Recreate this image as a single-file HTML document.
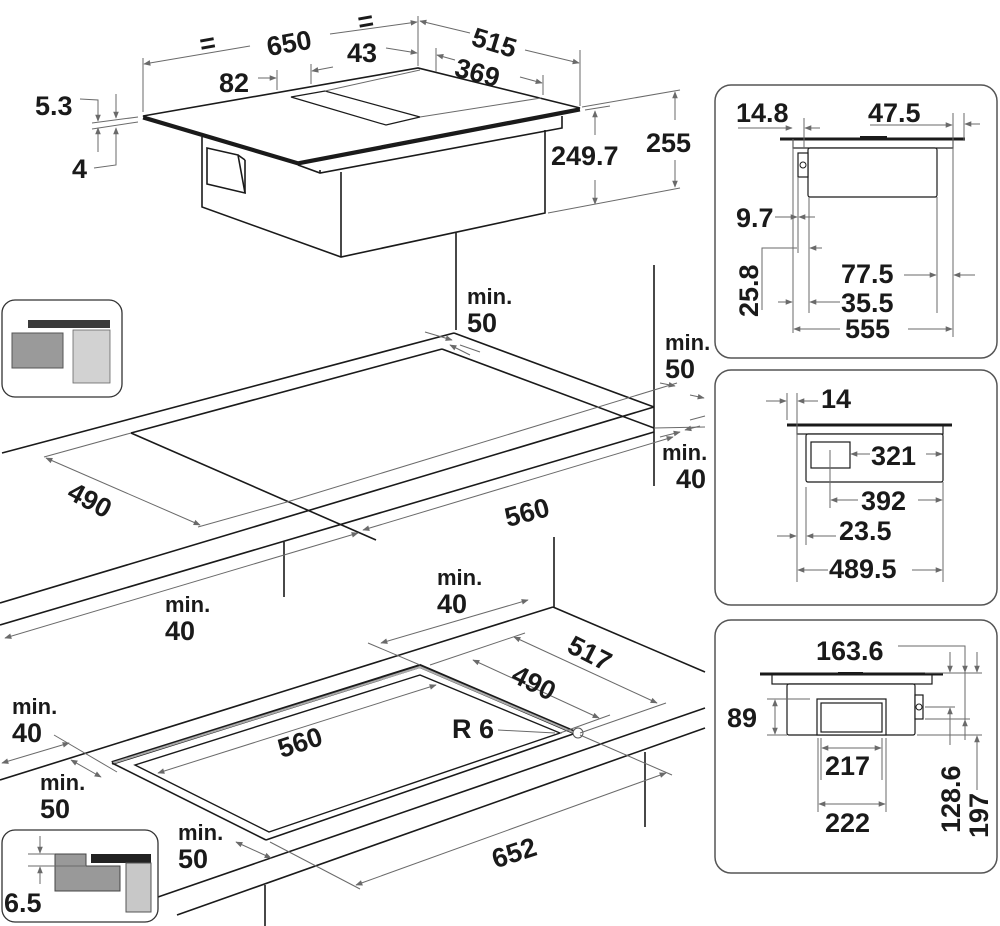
<!DOCTYPE html>
<html><head><meta charset="utf-8"><style>
html,body{margin:0;padding:0;background:#fff}
svg{display:block}
text{font-family:"Liberation Sans",sans-serif;font-weight:bold;fill:#1a1a1a}
.t{font-size:27px}
.s{font-size:22px}
.k{stroke:#1a1a1a;stroke-width:1.6;fill:none}
.kb{stroke:#1a1a1a;stroke-width:3;fill:none}
.g{stroke:#6a6a6a;stroke-width:1;fill:none}
.d{stroke:#6a6a6a;stroke-width:1;fill:none;marker-start:url(#a);marker-end:url(#a)}
.e{stroke:#6a6a6a;stroke-width:1;fill:none;marker-end:url(#a)}
</style></head><body>
<svg width="1000" height="926" viewBox="0 0 1000 926" xmlns="http://www.w3.org/2000/svg">
<defs>
<marker id="a" viewBox="0 0 10 10" refX="9" refY="5" markerWidth="9" markerHeight="7" orient="auto-start-reverse" markerUnits="userSpaceOnUse">
<path d="M0,1 L10,5 L0,9 z" fill="#6a6a6a"/></marker>
</defs>

<!-- TOP HOB -->
<polygon points="143,116 418,68 580,108 298,162" fill="#fff" stroke="#1a1a1a" stroke-width="1.6"/>
<polyline class="kb" points="143,118 298,164 580,110"/>
<polygon points="291,97 325,91 420,117 386,125" fill="#fff" stroke="#1a1a1a" stroke-width="1.2"/>
<line class="g" x1="325" y1="91" x2="420" y2="70"/>
<line class="g" x1="420" y1="117" x2="541" y2="98"/>
<polyline class="k" points="298,165 320,173 562,128 562,116"/>
<line class="k" x1="320" y1="173" x2="320" y2="170"/>
<polyline class="k" points="202,137 202,207 341,257 545,213 545,130"/>
<line class="k" x1="341" y1="172" x2="341" y2="257"/>
<polygon points="207,148 238,155 245,193 207,184" fill="#fff" stroke="#1a1a1a" stroke-width="1.6"/>
<line class="k" x1="238" y1="155" x2="245" y2="160"/><line class="k" x1="245" y1="160" x2="245" y2="193"/>
<line class="k" x1="456" y1="233" x2="456" y2="330"/>

<!-- top dims -->
<line class="g" x1="143" y1="112" x2="143" y2="58"/>
<line class="g" x1="418" y1="66" x2="418" y2="16"/>
<line class="e" x1="250" y1="46" x2="144" y2="64"/>
<line class="e" x1="330" y1="34" x2="417" y2="22"/>
<text class="t" x="200" y="52" transform="rotate(-10 210 45)">=</text>
<text class="t" x="266" y="52" transform="rotate(-10 291 40)">650</text>
<text class="t" x="358" y="30" transform="rotate(-10 368 22)">=</text>
<line class="g" x1="277" y1="70" x2="277" y2="90"/>
<line class="e" x1="258" y1="78" x2="276" y2="78"/>
<text class="t" x="219" y="92">82</text>
<line class="g" x1="311" y1="64" x2="311" y2="84"/>
<line class="e" x1="333" y1="67" x2="312" y2="71"/>
<line class="e" x1="386" y1="48" x2="417" y2="53"/>
<text class="t" x="347" y="62">43</text>
<line class="g" x1="580" y1="50" x2="580" y2="106"/>
<line class="e" x1="470" y1="33" x2="420" y2="21"/>
<line class="e" x1="525" y1="50" x2="579" y2="63"/>
<text class="t" x="472" y="52" transform="rotate(17 495 42)">515</text>
<line class="g" x1="436" y1="48" x2="436" y2="72"/>
<line class="g" x1="543" y1="75" x2="543" y2="95"/>
<line class="e" x1="455" y1="60" x2="437" y2="55"/>
<line class="e" x1="520" y1="77" x2="542" y2="83"/>
<text class="t" x="455" y="82" transform="rotate(15 478 72)">369</text>
<text class="t" x="35" y="115">5.3</text>
<text class="t" x="72" y="178">4</text>
<polyline class="g" points="80,99 98,100 98,118"/>
<line class="e" x1="98" y1="104" x2="98" y2="121"/>
<line class="e" x1="116" y1="94" x2="116" y2="118"/>
<line class="e" x1="98" y1="152" x2="98" y2="128"/>
<line class="e" x1="116" y1="162" x2="116" y2="128"/>
<polyline class="g" points="94,168 116,165 116,140"/>
<line class="g" x1="92" y1="123" x2="138" y2="117"/>
<line class="g" x1="92" y1="129" x2="138" y2="122"/>
<line class="g" x1="582" y1="107" x2="680" y2="90"/>
<line class="g" x1="548" y1="213" x2="680" y2="188"/>
<line class="g" x1="585" y1="110" x2="610" y2="106"/>
<line class="e" x1="595" y1="135" x2="595" y2="111"/>
<line class="e" x1="595" y1="180" x2="595" y2="204"/>
<line class="e" x1="675" y1="120" x2="675" y2="92"/>
<line class="e" x1="675" y1="160" x2="675" y2="187"/>
<text class="t" x="551" y="165">249.7</text>
<text class="t" x="646" y="152">255</text>

<!-- icon 1 -->
<rect x="2" y="300" width="120" height="97" rx="13" fill="#fff" stroke="#333" stroke-width="1.3"/>
<rect x="28" y="320" width="82" height="8" fill="#3a3a3a"/>
<rect x="73" y="330" width="37" height="53" fill="#d2d2d2" stroke="#666" stroke-width="0.8"/>
<rect x="12" y="333" width="51" height="35" fill="#9a9a9a" stroke="#555" stroke-width="1"/>

<!-- MIDDLE COUNTER -->
<line class="k" x1="2" y1="453" x2="454" y2="333"/>
<line class="k" x1="454" y1="333" x2="654" y2="407"/>
<line class="k" x1="0" y1="603" x2="654" y2="407"/>
<line class="k" x1="0" y1="625" x2="654" y2="432"/>
<line class="k" x1="654" y1="265" x2="654" y2="486"/>
<line class="k" x1="284" y1="542" x2="284" y2="597"/>
<line class="k" x1="554" y1="537" x2="554" y2="607"/>
<line class="k" x1="131" y1="433" x2="442" y2="349"/>
<line class="k" x1="442" y1="349" x2="654" y2="428"/>
<line class="k" x1="131" y1="433" x2="376" y2="540"/>
<line class="g" x1="287" y1="502" x2="677" y2="383"/>
<line class="g" x1="654" y1="428" x2="705" y2="427"/>
<line class="g" x1="44" y1="457" x2="131" y2="433"/>
<line class="g" x1="198" y1="527" x2="287" y2="502"/>
<line class="d" x1="46" y1="458" x2="200" y2="525"/>
<text class="t" x="67" y="512" transform="rotate(28 95 502)">490</text>
<line class="d" x1="363" y1="530" x2="673" y2="437"/>
<text class="t" x="504" y="520" transform="rotate(-15 533 510)">560</text>
<line class="d" x1="5" y1="638" x2="358" y2="533"/>
<line class="e" x1="425" y1="332" x2="452" y2="340"/>
<line class="e" x1="470" y1="355" x2="450" y2="345"/>
<line class="g" x1="460" y1="345" x2="480" y2="352"/>
<line class="e" x1="660" y1="383" x2="675" y2="386"/>
<line class="e" x1="690" y1="395" x2="704" y2="398"/>
<line class="g" x1="690" y1="420" x2="705" y2="416"/>
<line class="e" x1="660" y1="437" x2="680" y2="432"/>
<line class="e" x1="700" y1="426" x2="685" y2="430"/>
<text class="s" x="467" y="304">min.</text><text class="t" x="467" y="332">50</text>
<text class="s" x="665" y="350">min.</text><text class="t" x="665" y="378">50</text>
<text class="s" x="662" y="460">min.</text><text class="t" x="676" y="488">40</text>
<text class="s" x="165" y="612">min.</text><text class="t" x="165" y="640">40</text>
<text class="s" x="437" y="585">min.</text><text class="t" x="437" y="613">40</text>

<!-- BOTTOM COUNTER -->
<line class="k" x1="0" y1="780" x2="553" y2="607"/>
<line class="k" x1="553" y1="607" x2="705" y2="672"/>
<line class="k" x1="158" y1="897" x2="705" y2="708"/>
<line class="k" x1="177" y1="915" x2="705" y2="728"/>
<line class="k" x1="645" y1="752" x2="645" y2="827"/>
<line class="k" x1="265" y1="885" x2="265" y2="926"/>
<polyline points="112,763 420,666 576,733" fill="none" stroke="#1a1a1a" stroke-width="4"/>
<polyline points="113,763 420,667 575,733" fill="none" stroke="#aaa" stroke-width="2"/>
<line class="k" x1="112" y1="763" x2="266" y2="840"/>
<line class="k" x1="266" y1="840" x2="576" y2="733"/>
<polygon points="135,765 420,675 560,733 269,832" fill="none" stroke="#1a1a1a" stroke-width="1.4"/>
<circle cx="578" cy="733" r="5" fill="#fff" stroke="#555" stroke-width="1"/>
<line class="g" x1="498" y1="730" x2="555" y2="733"/>
<text class="t" x="452" y="738">R 6</text>
<line class="d" x1="158" y1="773" x2="436" y2="685"/>
<text class="t" x="277" y="750" transform="rotate(-18 305 740)">560</text>
<line class="g" x1="430" y1="665" x2="525" y2="633"/>
<line class="g" x1="560" y1="733" x2="610" y2="715"/>
<line class="d" x1="473" y1="660" x2="599" y2="718"/>
<text class="t" x="511" y="695" transform="rotate(27 540 685)">490</text>
<line class="g" x1="580" y1="733" x2="666" y2="703"/>
<line class="d" x1="514" y1="637" x2="657" y2="703"/>
<text class="t" x="567" y="665" transform="rotate(27 595 655)">517</text>
<line class="g" x1="368" y1="643" x2="420" y2="665"/>
<line class="d" x1="381" y1="643" x2="528" y2="600"/>
<line class="g" x1="580" y1="735" x2="672" y2="775"/>
<line class="g" x1="270" y1="842" x2="360" y2="889"/>
<line class="d" x1="356" y1="885" x2="666" y2="773"/>
<text class="t" x="491" y="860" transform="rotate(-18 520 850)">652</text>
<line class="g" x1="54" y1="735" x2="117" y2="772"/>
<line class="d" x1="2" y1="763" x2="69" y2="743"/>
<line class="d" x1="71" y1="760" x2="101" y2="777"/>
<line class="d" x1="236" y1="842" x2="271" y2="858"/>
<text class="s" x="12" y="714">min.</text><text class="t" x="12" y="742">40</text>
<text class="s" x="40" y="790">min.</text><text class="t" x="40" y="818">50</text>
<text class="s" x="178" y="840">min.</text><text class="t" x="178" y="868">50</text>

<!-- icon 2 -->
<rect x="2" y="830" width="156" height="92" rx="13" fill="#fff" stroke="#333" stroke-width="1.3"/>
<rect x="91" y="854" width="60" height="9" fill="#222"/>
<rect x="126" y="863" width="25" height="49" fill="#c8c8c8" stroke="#555" stroke-width="1"/>
<polygon points="55,854 86,854 86,866 120,866 120,891 55,891" fill="#999" stroke="#444" stroke-width="1"/>
<line class="g" x1="28" y1="854" x2="55" y2="854"/>
<line class="g" x1="28" y1="866" x2="86" y2="866"/>
<line class="e" x1="40" y1="836" x2="40" y2="853"/>
<line class="e" x1="40" y1="884" x2="40" y2="867"/>
<text class="t" x="4" y="912">6.5</text>

<!-- PANEL 1 -->
<rect x="715" y="85" width="282" height="273" rx="16" fill="#fff" stroke="#555" stroke-width="1.5"/>
<rect x="793" y="139" width="160" height="9" fill="#fff" stroke="#1a1a1a" stroke-width="1.2"/>
<line class="kb" x1="780" y1="139" x2="965" y2="139"/>
<rect x="860" y="136" width="27" height="3" fill="#1a1a1a"/>
<rect x="808" y="148" width="129" height="49" rx="2" fill="#fff" stroke="#1a1a1a" stroke-width="1.2"/>
<rect x="798" y="153" width="10" height="24" fill="#fff" stroke="#1a1a1a" stroke-width="1.2"/>
<circle cx="803" cy="165" r="3" fill="none" stroke="#1a1a1a"/>
<line class="g" x1="793" y1="139" x2="793" y2="333"/>
<line class="g" x1="798" y1="177" x2="798" y2="253"/>
<line class="g" x1="804" y1="118" x2="804" y2="148"/>
<line class="g" x1="809" y1="197" x2="809" y2="313"/>
<line class="g" x1="937" y1="197" x2="937" y2="313"/>
<line class="g" x1="953" y1="113" x2="953" y2="337"/>
<line class="g" x1="964" y1="113" x2="964" y2="140"/>
<line class="e" x1="738" y1="128" x2="792" y2="128"/>
<line class="e" x1="820" y1="128" x2="805" y2="128"/>
<line class="e" x1="870" y1="125" x2="952" y2="125"/>
<line class="e" x1="980" y1="124" x2="965" y2="124"/>
<line class="e" x1="775" y1="217" x2="797" y2="217"/>
<line class="e" x1="815" y1="217" x2="799" y2="217"/>
<polyline class="g" points="762,310 762,248 797,248"/>
<line class="e" x1="822" y1="248" x2="810" y2="248"/>
<line class="e" x1="778" y1="302" x2="792" y2="302"/>
<line class="e" x1="840" y1="302" x2="810" y2="302"/>
<line class="e" x1="904" y1="275" x2="936" y2="275"/>
<line class="e" x1="975" y1="275" x2="954" y2="275"/>
<line class="e" x1="840" y1="329" x2="794" y2="329"/>
<line class="e" x1="908" y1="329" x2="952" y2="329"/>
<text class="t" x="736" y="122">14.8</text>
<text class="t" x="868" y="122">47.5</text>
<text class="t" x="736" y="227">9.7</text>
<text class="t" x="0" y="0" transform="translate(758,317) rotate(-90)">25.8</text>
<text class="t" x="841" y="283">77.5</text>
<text class="t" x="841" y="312">35.5</text>
<text class="t" x="845" y="338">555</text>

<!-- PANEL 2 -->
<rect x="715" y="370" width="282" height="235" rx="16" fill="#fff" stroke="#555" stroke-width="1.5"/>
<rect x="797" y="425" width="146" height="9" fill="#fff" stroke="#1a1a1a" stroke-width="1.2"/>
<line class="kb" x1="787" y1="425" x2="952" y2="425"/>
<rect x="806" y="434" width="137" height="48" rx="2" fill="#fff" stroke="#1a1a1a" stroke-width="1.2"/>
<rect x="811" y="442" width="39" height="26" fill="#fff" stroke="#1a1a1a" stroke-width="1.2"/>
<line class="g" x1="787" y1="393" x2="787" y2="420"/>
<line class="g" x1="797" y1="393" x2="797" y2="582"/>
<line class="g" x1="806" y1="487" x2="806" y2="545"/>
<line class="g" x1="830" y1="450" x2="830" y2="508"/>
<line class="g" x1="943" y1="482" x2="943" y2="582"/>
<line class="e" x1="766" y1="401" x2="786" y2="401"/>
<line class="e" x1="818" y1="401" x2="798" y2="401"/>
<line class="e" x1="870" y1="454" x2="851" y2="454"/>
<line class="e" x1="926" y1="454" x2="942" y2="454"/>
<line class="e" x1="858" y1="500" x2="831" y2="500"/>
<line class="e" x1="918" y1="500" x2="942" y2="500"/>
<line class="e" x1="777" y1="536" x2="796" y2="536"/>
<line class="e" x1="836" y1="536" x2="807" y2="536"/>
<line class="e" x1="828" y1="570" x2="798" y2="570"/>
<line class="e" x1="912" y1="570" x2="942" y2="570"/>
<text class="t" x="821" y="408">14</text>
<text class="t" x="871" y="465">321</text>
<text class="t" x="861" y="510">392</text>
<text class="t" x="839" y="540">23.5</text>
<text class="t" x="829" y="578">489.5</text>

<!-- PANEL 3 -->
<rect x="715" y="620" width="282" height="253" rx="16" fill="#fff" stroke="#555" stroke-width="1.5"/>
<rect x="772" y="674" width="160" height="10" fill="#fff" stroke="#1a1a1a" stroke-width="1.2"/>
<line class="kb" x1="760" y1="674" x2="943" y2="674"/>
<rect x="838" y="672" width="25" height="3" fill="#1a1a1a"/>
<rect x="787" y="684" width="128" height="51" rx="2" fill="#fff" stroke="#1a1a1a" stroke-width="1.2"/>
<rect x="817" y="699" width="69" height="36" fill="#fff" stroke="#1a1a1a" stroke-width="1.2"/>
<rect x="821" y="703" width="61" height="29" fill="#fff" stroke="#1a1a1a" stroke-width="1.2"/>
<rect x="915" y="695" width="8" height="24" fill="#fff" stroke="#1a1a1a" stroke-width="1.2"/>
<circle cx="919" cy="707" r="3" fill="none" stroke="#1a1a1a"/>
<line class="g" x1="925" y1="673" x2="982" y2="673"/>
<line class="g" x1="925" y1="707" x2="955" y2="707"/>
<line class="g" x1="925" y1="719" x2="970" y2="719"/>
<line class="g" x1="917" y1="735" x2="982" y2="735"/>
<polyline class="g" points="898,646 965,646 965,735"/>
<line class="g" x1="767" y1="699" x2="810" y2="699"/>
<line class="g" x1="767" y1="735" x2="787" y2="735"/>
<line class="d" x1="775" y1="700" x2="775" y2="734"/>
<line class="g" x1="818" y1="738" x2="818" y2="812"/>
<line class="g" x1="886" y1="738" x2="886" y2="812"/>
<line class="g" x1="821" y1="738" x2="821" y2="780"/>
<line class="g" x1="882" y1="738" x2="882" y2="780"/>
<line class="d" x1="822" y1="748" x2="881" y2="748"/>
<line class="d" x1="819" y1="804" x2="885" y2="804"/>
<line class="e" x1="950" y1="652" x2="950" y2="672"/>
<line class="e" x1="965" y1="652" x2="965" y2="672"/>
<line class="e" x1="977" y1="652" x2="977" y2="672"/>
<line class="e" x1="950" y1="745" x2="950" y2="708"/>
<line class="e" x1="965" y1="740" x2="965" y2="720"/>
<line class="e" x1="977" y1="790" x2="977" y2="736"/>
<text class="t" x="816" y="660">163.6</text>
<text class="t" x="727" y="727">89</text>
<text class="t" x="825" y="775">217</text>
<text class="t" x="825" y="832">222</text>
<text class="t" x="0" y="0" transform="translate(960,833) rotate(-90)">128.6</text>
<text class="t" x="0" y="0" transform="translate(988,838) rotate(-90)">197</text>
</svg>
</body></html>
